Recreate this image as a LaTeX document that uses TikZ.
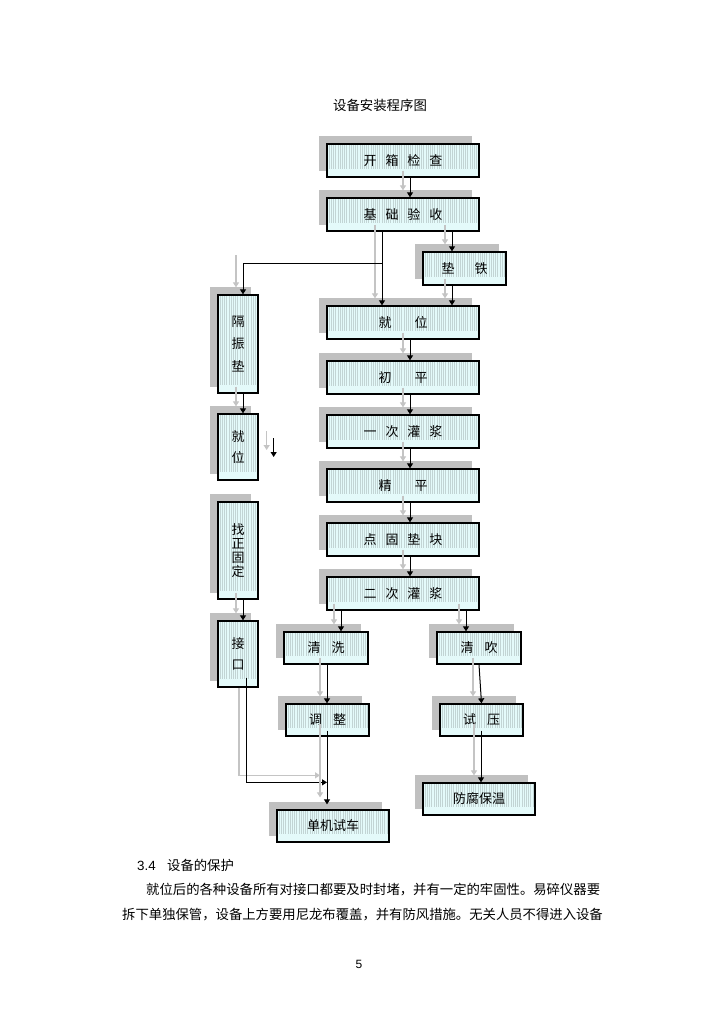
\documentclass[tikz,border=0pt]{standalone}
\usepackage{fontspec}
\setmainfont{Liberation Sans}
\newfontfamily\cjk{Noto Sans CJK SC}
\usetikzlibrary{arrows.meta,calc,backgrounds}
\definecolor{boxfill}{HTML}{E4FAFA}
\definecolor{stripec}{HTML}{C2D4D4}
\definecolor{shadowc}{HTML}{C0C0C0}
\definecolor{arrowgray}{HTML}{C4C4C4}
\newcommand\gapA{\hspace{9pt}}
\newcommand\gapB{\hspace{23pt}}
\newcommand\gapC{\hspace{11pt}}
\newcommand\duo[2]{\draw[gry] ([shift={(-7,-7)}]#1) -- ([shift={(-7,-7)}]#2); \draw[blk] (#1) -- (#2);}
\begin{document}
\begin{tikzpicture}[x=1pt,y=-1pt,
  box/.style={draw=black, line width=1.3pt, fill=boxfill, inner sep=0pt,
    font=\cjk\fontsize{13}{13}\selectfont,
    path picture={
      \coordinate (pa) at (path picture bounding box.north west);
      \coordinate (pb) at (path picture bounding box.south east);
      \foreach \i in {2,4.2,...,160}{\draw[stripec, line width=0.55pt] ($(pa)+(\i,0)$) -- ($(pa|-pb)+(\i,-8)$);}
    }},
  mbox/.style={box, minimum width=152pt, minimum height=33pt},
  sbox/.style={box, minimum width=84pt, minimum height=32pt},
  wbox/.style={box, minimum width=112pt, minimum height=32pt},
  lbox/.style={box, minimum width=40pt, align=center},
  blk/.style={draw=black, line width=1pt, -{Triangle[width=6pt,length=5pt]}},
  gry/.style={draw=arrowgray, line width=1.3pt, -{Triangle[width=6pt,length=5pt]}},
  txt/.style={inner sep=0pt, font=\cjk\fontsize{13.35}{13.35}\selectfont}
]
\useasboundingbox (0,0) rectangle (723,1024);

% title
\node[inner sep=0pt, font=\cjk\fontsize{13.4}{13.4}\selectfont] (title) at (380,105) {设备安装程序图};

% main column
\node[mbox] (b1) at (403,160.5) {开\gapA 箱\gapA 检\gapA 查};
\node[mbox] (b2) at (403,214.5) {基\gapA 础\gapA 验\gapA 收};
\node[box, minimum width=83pt, minimum height=33pt] (b3) at (464.5,268.5) {垫\hspace{20pt}铁};
\node[mbox] (b4) at (403,322.5) {就\gapB 位};
\node[mbox] (b5) at (403,377.5) {初\gapB 平};
\node[mbox] (b6) at (403,431.5) {一\gapA 次\gapA 灌\gapA 浆};
\node[mbox] (b7) at (403,485.5) {精\gapB 平};
\node[mbox] (b8) at (403,539.5) {点\gapA 固\gapA 垫\gapA 块};
\node[mbox] (b9) at (403,593.5) {二\gapA 次\gapA 灌\gapA 浆};

% left column
\node[lbox, minimum height=98pt, font=\cjk\fontsize{13}{22.5}\selectfont] (l1) at (238,344) {隔\\振\\垫};
\node[lbox, minimum height=66pt, font=\cjk\fontsize{13}{21.7}\selectfont] (l2) at (238,447) {就\\位};
\node[lbox, minimum height=97pt, font=\cjk\fontsize{13}{14.2}\selectfont] (l3) at (238,550.5) {找\\正\\固\\定};
\node[lbox, minimum height=66pt, font=\cjk\fontsize{13}{21.7}\selectfont] (l4) at (238,654) {接\\口};

% branches
\node[sbox] (c1) at (326,648) {清\gapC 洗};
\node[sbox, minimum width=83pt] (c2) at (327.5,720) {调\gapC 整};
\node[wbox] (c3) at (333,826) {单机试车};
\node[sbox] (d1) at (479,648) {清\gapC 吹};
\node[sbox, minimum width=83pt] (d2) at (481.5,720) {试\gapC 压};
\node[wbox] (d3) at (479,799) {防腐保温};

% page background and shadows
\begin{scope}[on background layer]
\fill[white] (0,0) rectangle (723,1024);
\foreach \n in {b1,b2,b3,b4,b5,b6,b7,b8,b9,l1,l2,l3,l4,c1,c2,c3,d1,d2,d3}{
  \fill[shadowc] ([shift={(-7.5,-7)}]\n.south west) rectangle ([shift={(-7.5,-7)}]\n.north east);
}
\end{scope}

% connectors
\coordinate (p1) at ($(b1.south)+(7,0)$); \coordinate (q1) at ($(b2.north)+(7,0)$); \duo{p1}{q1}
\coordinate (p2) at ($(b2.south)+(-21,0)$); \coordinate (q2) at ($(b4.north)+(-21,0)$); \duo{p2}{q2}
\coordinate (p3) at ($(b2.south)+(49,0)$); \coordinate (q3) at ($(b3.north)+(-12.5,0)$); \duo{p3}{q3}
\coordinate (p4) at ($(b3.south)+(-12.5,0)$); \coordinate (q4) at ($(b4.north)+(49,0)$); \duo{p4}{q4}
\coordinate (p5) at ($(b4.south)+(7,0)$); \coordinate (q5) at ($(b5.north)+(7,0)$); \duo{p5}{q5}
\coordinate (p6) at ($(b5.south)+(7,0)$); \coordinate (q6) at ($(b6.north)+(7,0)$); \duo{p6}{q6}
\coordinate (p7) at ($(b6.south)+(7,0)$); \coordinate (q7) at ($(b7.north)+(7,0)$); \duo{p7}{q7}
\coordinate (p8) at ($(b7.south)+(7,0)$); \coordinate (q8) at ($(b8.north)+(7,0)$); \duo{p8}{q8}
\coordinate (p9) at ($(b8.south)+(7,0)$); \coordinate (q9) at ($(b9.north)+(7,0)$); \duo{p9}{q9}

% branch to left column
\coordinate (j) at ($(b2.south)+(-21,32)$);
\coordinate (jl) at ($(l1.north)+(5,0)$);
\draw[gry] ($(l1.north)+(-2,-39)$) -- ($(l1.north)+(-2,-7)$);
\draw[blk] (j) -| (jl);

\coordinate (p10) at ($(l1.south)+(5,0)$); \coordinate (q10) at ($(l2.north)+(5,0)$); \duo{p10}{q10}
\coordinate (p11) at ($(l2.east)+(15,-9)$); \coordinate (q11) at ($(l2.east)+(15,10)$); \duo{p11}{q11}
\coordinate (p12) at ($(l3.south)+(5,0)$); \coordinate (q12) at ($(l4.north)+(5,0)$); \duo{p12}{q12}

% jiekou to danji
\coordinate (k1) at ($(l4.south)+(8,-10)$);
\coordinate (k2) at ($(c3.north)+(-6,-27)$);
\draw[gry] ($(l4.south)+(1,0)$) |- ([shift={(-7,-7)}]k2);
\draw[blk] (k1) |- (k2);

\coordinate (p13) at ($(b9.south)+(-62,0)$); \coordinate (q13) at ($(c1.north)+(15,0)$); \duo{p13}{q13}
\coordinate (p14) at ($(b9.south)+(63,0)$); \coordinate (q14) at ($(d1.north)+(-13,0)$); \duo{p14}{q14}
\coordinate (p15) at ($(c1.south)+(1,0)$); \coordinate (q15) at ($(c2.north)+(-0.5,0)$); \duo{p15}{q15}
\coordinate (p16) at ($(c2.south)+(-0.5,-6)$); \coordinate (q16) at ($(c3.north)+(-6,-5)$); \duo{p16}{q16}
\coordinate (p17) at ($(d1.south)+(0,0)$); \coordinate (q17) at ($(d2.north)+(0,0)$);
\draw[gry] ($(d1.south)+(-6,-7)$) -- ($(d2.north)+(-8.5,-7)$);
\draw[blk] (p17) -- (q17);
\coordinate (p18) at ($(d2.south)+(-0.5,-6)$); \coordinate (q18) at ($(d3.north)+(2,0)$); \duo{p18}{q18}

% page text
\node[inner sep=0pt, anchor=west, font=\fontsize{13.35}{13.35}\selectfont] (sec) at (137,865) {3.4\hspace{11.4pt}{\cjk 设备的保护}};
\node[txt, anchor=west] (t1) at (146,890) {就位后的各种设备所有对接口都要及时封堵，并有一定的牢固性。易碎仪器要};
\node[txt, anchor=west] (t2) at (122,915) {拆下单独保管，设备上方要用尼龙布覆盖，并有防风措施。无关人员不得进入设备};
\node[inner sep=0pt, font=\fontsize{12}{12}\selectfont] (pg) at (359,964) {5};
\end{tikzpicture}
\end{document}
